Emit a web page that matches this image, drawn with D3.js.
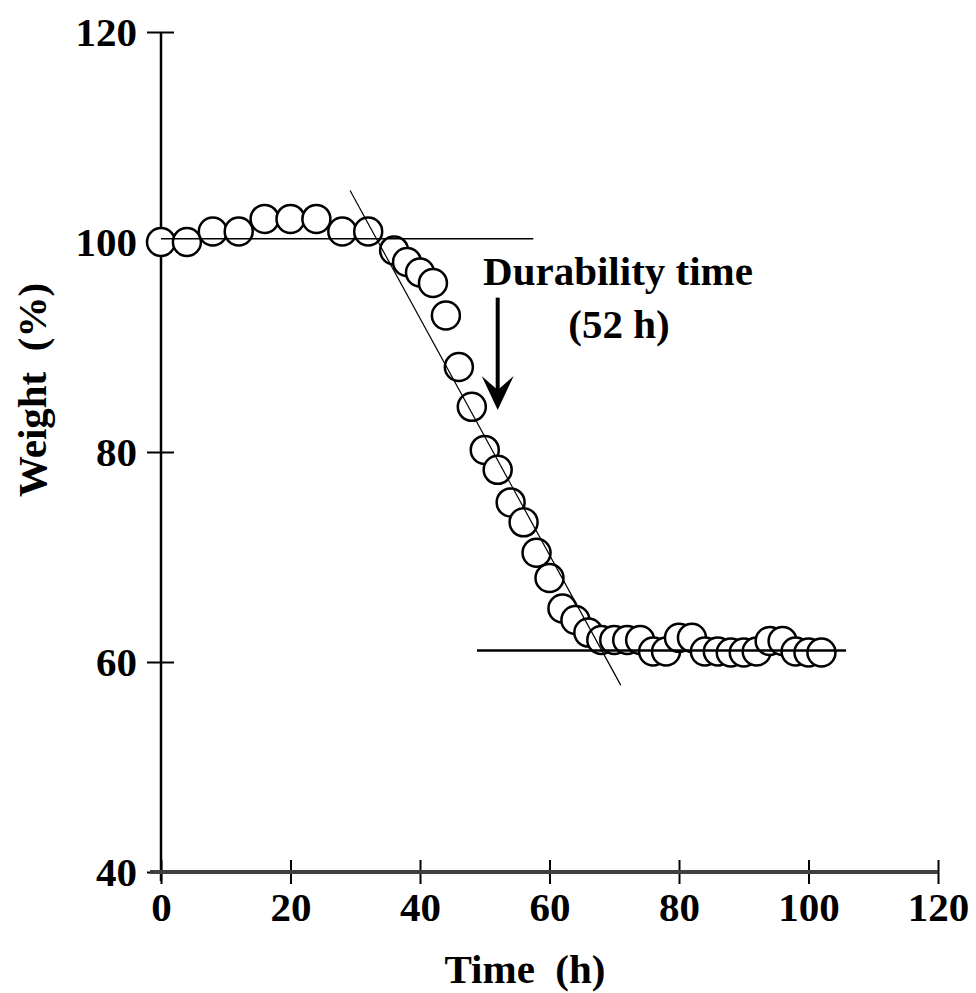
<!DOCTYPE html>
<html>
<head>
<meta charset="utf-8">
<script src="https://cdn.jsdelivr.net/npm/d3@7"></script>
<style>
  body { margin: 0; background: #fff; }
  svg text { font-family: "Liberation Serif", "Times New Roman", serif; font-weight: bold; fill: #000; }
  .tick-label { font-size: 41px; }
  .axis-label { font-size: 41px; }
  .note { font-size: 41px; }
</style>
</head>
<body>
<div id="chart"></div>
<script>
// Weight loss over time (durability test)
const times = [0, 4, 8, 12, 16, 20, 24, 28, 32,
    36, 38, 40, 42, 44, 46, 48, 50, 52, 54, 56, 58, 60,
    62, 64, 66, 68, 70, 72, 74, 76, 78, 80, 82, 84, 86, 88, 90, 92, 94, 96, 98, 100, 102];
const weights = [100, 100, 101, 101, 102.2, 102.2, 102.2, 101, 101,
    99.2, 98.1, 97.1, 96.1, 93, 88.1, 84.3, 80.2, 78.3, 75.2, 73.3, 70.4, 68,
    65.1, 64, 62.8, 62.1, 62.1, 62.1, 62.1, 61, 61, 62.3, 62.3, 61, 61, 60.9, 60.9, 61, 62, 62, 61, 60.9, 60.9];

const xTicks = [0, 20, 40, 60, 80, 100, 120];
const yTicks = [40, 60, 80, 100, 120];

// Guide lines: [t1, w1, t2, w2]
const upperLine = [0, 100.3, 57.5, 100.3];
const tangentLine = [29.2, 104.9, 71, 57.8];
const lowerLine = [48.8, 61.1, 105.8, 61.1];
const durability = 52; // h, arrow position
const arrowFrom = 94.7, arrowTo = 84;

const width = 976, height = 993;

const svg = d3.select("#chart")
    .append("svg")
    .attr("width", width)
    .attr("height", height);

const x = d3.scaleLinear().domain([0, 120]).range([161, 938]);
const y = d3.scaleLinear().domain([40, 120]).range([872, 32]);

// Y axis: ticks cross the axis line
const yAxis = svg.append("g")
    .attr("transform", `translate(${x(0)},0)`)
    .call(d3.axisLeft(y).tickValues(yTicks).tickSize(14).tickPadding(10).tickFormat(d3.format("d")));
yAxis.select(".domain").remove();
yAxis.selectAll(".tick line").attr("x2", 13).attr("x1", -14).attr("stroke", "#000").attr("stroke-width", 2);
yAxis.selectAll(".tick text").attr("class", "tick-label").attr("x", -24).attr("dy", "0.34em");
yAxis.append("line")
    .attr("x1", 0).attr("x2", 0)
    .attr("y1", y(120)).attr("y2", y(40) + 9)
    .attr("stroke", "#000").attr("stroke-width", 2.5);

// X axis: thicker grey line
const xAxis = svg.append("g")
    .attr("transform", `translate(0,${y(40)})`)
    .call(d3.axisBottom(x).tickValues(xTicks).tickSize(12).tickPadding(26).tickFormat(d3.format("d")));
xAxis.select(".domain").remove();
xAxis.selectAll(".tick line").attr("y1", -12).attr("y2", 12).attr("stroke", "#000").attr("stroke-width", 2);
xAxis.selectAll(".tick text").attr("class", "tick-label").attr("dy", "0.71em").attr("y", 20);
xAxis.append("line")
    .attr("x1", x(0) - 11).attr("x2", x(120))
    .attr("y1", 0).attr("y2", 0)
    .attr("stroke", "#404040").attr("stroke-width", 4);

// Data points
const points = times.map((t, i) => ({ t: t, w: weights[i] }));
svg.append("g")
    .selectAll("circle")
    .data(points)
    .enter()
    .append("circle")
    .attr("cx", d => x(d.t))
    .attr("cy", d => y(d.w))
    .attr("r", 14)
    .attr("fill", "#fff")
    .attr("stroke", "#000")
    .attr("stroke-width", 2.5);

// Guide lines drawn over the points
const guides = svg.append("g");
[[upperLine, 1.5], [tangentLine, 1.2], [lowerLine, 2.5]].forEach(([l, sw]) => {
    guides.append("line")
        .attr("x1", x(l[0])).attr("y1", y(l[1]))
        .attr("x2", x(l[2])).attr("y2", y(l[3]))
        .attr("stroke", "#000")
        .attr("stroke-width", sw);
});

// Arrow marking the durability time
const ax = x(durability);
const tip = y(arrowTo);
guides.append("line")
    .attr("x1", ax).attr("x2", ax)
    .attr("y1", y(arrowFrom)).attr("y2", tip - 20)
    .attr("stroke", "#000").attr("stroke-width", 4);
guides.append("path")
    .attr("d", `M${ax - 16},${tip - 34} L${ax},${tip} L${ax + 16},${tip - 34} L${ax},${tip - 20} Z`)
    .attr("fill", "#000");

// Annotation text
svg.append("text")
    .attr("class", "note")
    .attr("x", 618).attr("y", 285)
    .style("text-anchor", "middle")
    .text("Durability time");
svg.append("text")
    .attr("class", "note")
    .attr("x", 619).attr("y", 338)
    .style("text-anchor", "middle")
    .text("(52 h)");

// Axis labels
svg.append("text")
    .attr("class", "axis-label")
    .attr("x", 525).attr("y", 983)
    .style("text-anchor", "middle")
    .style("white-space", "pre")
    .text("Time  (h)");
svg.append("text")
    .attr("class", "axis-label")
    .attr("transform", "translate(46,390) rotate(-90)")
    .style("text-anchor", "middle")
    .style("white-space", "pre")
    .text("Weight  (%)");
</script>
</body>
</html>
